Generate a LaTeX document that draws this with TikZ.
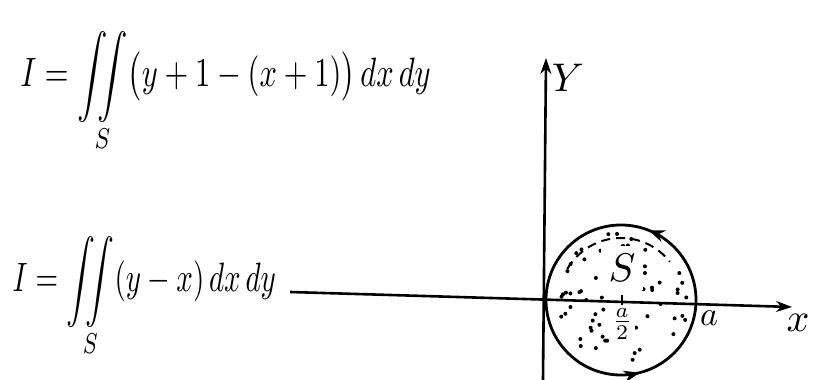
\documentclass[tikz,border=0pt]{standalone}
\usepackage{amsmath}
\usetikzlibrary{arrows.meta,decorations.markings}
\tikzset{
  axis/.style={line width=2.6pt,-{Stealth[length=16pt,width=11pt]}},
  curve/.style={line width=2.8pt},
  formula/.style={inner sep=0pt,xscale=3.05,yscale=4.1},
  lbl/.style={inner sep=0pt,scale=4},
  dot/.style={fill=black}
}
\begin{document}
\begin{tikzpicture}[x=1pt,y=1pt]
\useasboundingbox (0,0) rectangle (822,380);
% formulas
\node[formula,anchor=base west] (f1) at (20,293) {$\displaystyle I=\underset{S}{\smash[t]{\iint}}\bigl(y+1-(x+1)\bigr)\,dx\,dy$};
\node[formula,anchor=base west,xscale=0.95] (f2) at (12,88) {$\displaystyle I=\underset{S}{\smash[t]{\iint}}(y-x)\,dx\,dy$};
% axes
\coordinate (xl) at (290,88);
\coordinate (xr) at (792,73);
\coordinate (yb) at (543,0);
\coordinate (yt) at (546,322);
\draw[axis] (xl) -- (xr);
\draw[axis] (yb) -- (yt);
\node[lbl] (ylab) at (568,302) {$Y$};
\node[lbl] (xlab) at (798,57) {$x$};
% circle
\coordinate (c) at (621,80);
\draw[curve,decoration={markings,
  mark=at position 0.19 with {\arrow{Stealth[length=16pt,width=12pt]}},
  mark=at position 0.79 with {\arrow{Stealth[length=16pt,width=12pt]}}},
  postaction={decorate}] (c) circle[radius=75];
% dashed inner arc
\draw[line width=2pt,dash pattern=on 9pt off 6pt] ([shift={(150:62)}]c) arc[start angle=150,end angle=38,radius=62];
% stipple
\pgfmathsetseed{11}
\foreach \i in {1,...,75}{
  \pgfmathsetmacro{\rr}{8+60*sqrt(rnd)}
  \pgfmathsetmacro{\tt}{360*rnd}
  \fill[dot] ([shift={(\tt:\rr)}]c) circle[radius=2];
}
% labels
\node[lbl,fill=white,inner sep=2pt] (S) at (622,112) {$S$};
\draw[line width=2.2pt] (622,75) -- (622,85);
\node[inner sep=1pt,scale=3,fill=white] (half) at (622,56) {$\frac{a}{2}$};
\node[lbl,scale=0.85] (alab) at (709,62) {$a$};
\end{tikzpicture}
\end{document}
